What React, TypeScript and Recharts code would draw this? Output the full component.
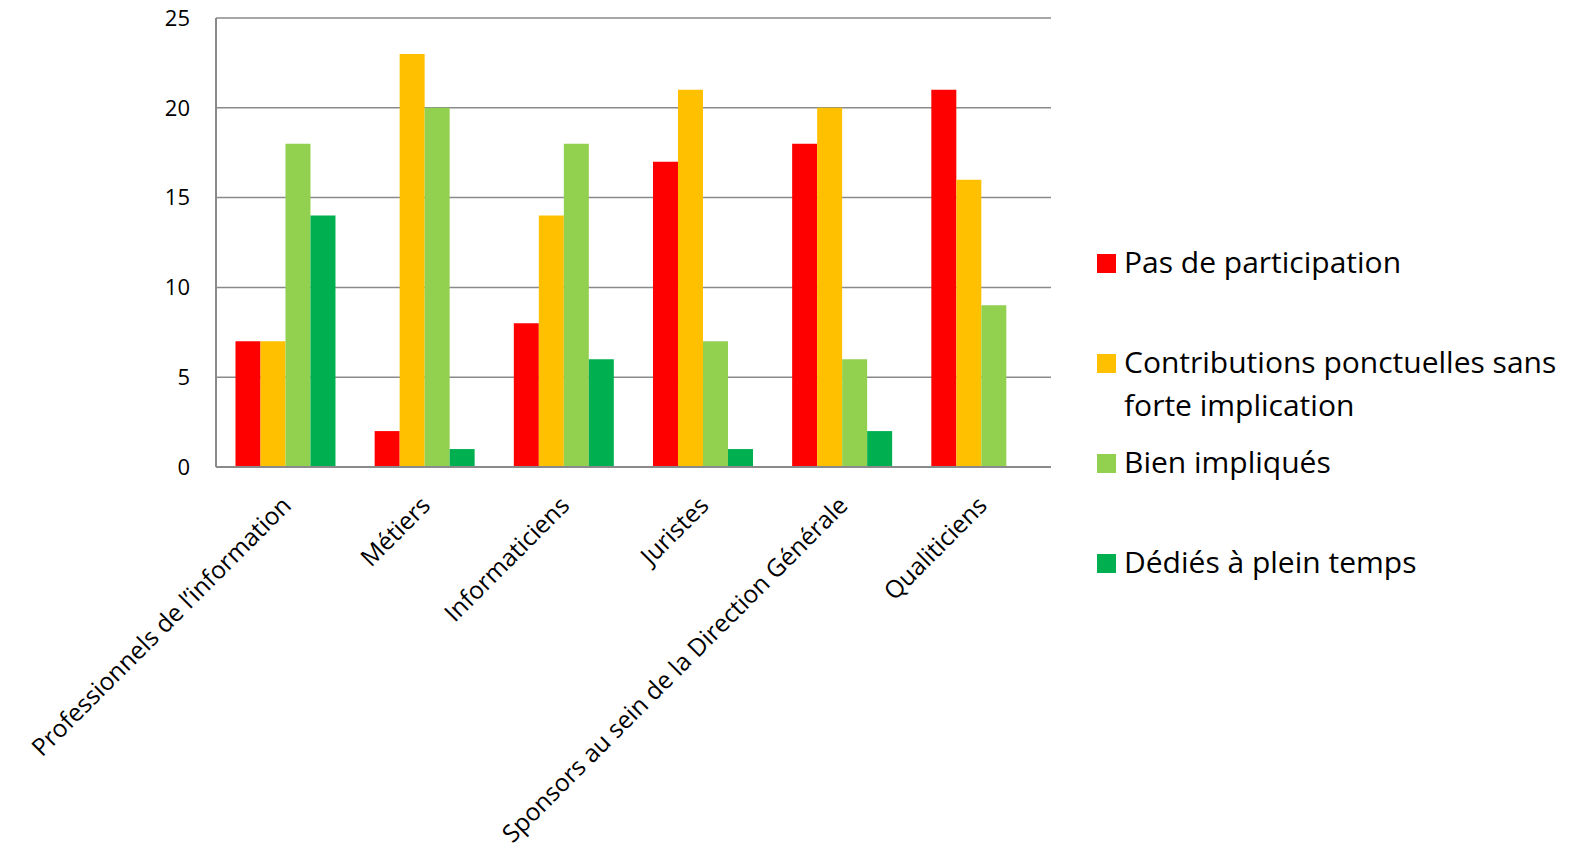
import React from 'react';
import { BarChart, Bar, XAxis, YAxis, CartesianGrid } from 'recharts';

const categories = [
  'Professionnels de l\u2019information',
  'Métiers',
  'Informaticiens',
  'Juristes',
  'Sponsors au sein de la Direction Générale',
  'Qualiticiens',
];
const pasDeParticipation = [7, 2, 8, 17, 18, 21];
const contributions = [7, 23, 14, 21, 20, 16];
const bienImpliques = [18, 20, 18, 7, 6, 9];
const dedies = [14, 1, 6, 1, 2, 0];
const yTicks = [0, 5, 10, 15, 20, 25];

const series = [
  { key: 'p', name: 'Pas de participation', color: '#FF0000', values: pasDeParticipation },
  { key: 'c', name: 'Contributions ponctuelles sans forte implication', color: '#FFC000', values: contributions },
  { key: 'b', name: 'Bien impliqués', color: '#92D050', values: bienImpliques },
  { key: 'd', name: 'Dédiés à plein temps', color: '#00B050', values: dedies },
];

const data = categories.map((name, i) => {
  const row: Record<string, string | number> = { name };
  series.forEach((s) => (row[s.key] = s.values[i]));
  return row;
});

const FONT = '"Open Sans", Lato, sans-serif';

const XTick = (props: any) => {
  const { x, y, payload } = props;
  return (
    <g transform={`translate(${x + 1},${y + 26})`}>
      <text
        transform="rotate(-45)"
        textAnchor="end"
        fill="#000"
        fontSize={24.5}
        fontFamily={FONT}
        dy="0.35em"
      >
        {payload.value}
      </text>
    </g>
  );
};

const ChartLegend = () => {
  const tops = [246, 346, 446, 546];
  return (
    <div style={{ position: 'absolute', left: 1097, top: 0, width: 476, fontFamily: FONT }}>
      {series.map((s, i) => (
        <div
          key={s.key}
          style={{ position: 'absolute', left: 0, top: tops[i], display: 'flex', alignItems: 'flex-start' }}
        >
          <div style={{ width: 19, height: 19, background: s.color, marginTop: 8, marginRight: 8, flex: 'none' }} />
          <div style={{ fontSize: 30, lineHeight: '43px', marginTop: -6, width: 450, color: '#000', fontVariantLigatures: 'none' }}>
            {s.name}
          </div>
        </div>
      ))}
    </div>
  );
};

export default function App() {
  return (
    <div style={{ position: 'absolute', left: 0, top: 0, width: 1573, height: 854, background: '#fff' }}>
      <BarChart
        width={1573}
        height={854}
        data={data}
        margin={{ top: 18, right: 522, left: 0, bottom: 0 }}
        barCategoryGap="14%"
        barGap={0}
      >
        <CartesianGrid vertical={false} stroke="#8a8a8a" strokeWidth={1.5} />
        <XAxis
          dataKey="name"
          interval={0}
          height={387}
          tickLine={false}
          axisLine={{ stroke: '#8a8a8a', strokeWidth: 2 }}
          tick={<XTick />}
        />
        <YAxis
          width={216}
          domain={[0, 25]}
          ticks={yTicks}
          tickLine={false}
          tickSize={0}
          tickMargin={26}
          axisLine={{ stroke: '#8a8a8a', strokeWidth: 2 }}
          tick={{ fill: '#000', fontSize: 22, fontFamily: FONT }}
        />
        {series.map((s) => (
          <Bar key={s.key} dataKey={s.key} name={s.name} fill={s.color} isAnimationActive={false} />
        ))}
      </BarChart>
      <ChartLegend />
    </div>
  );
}
